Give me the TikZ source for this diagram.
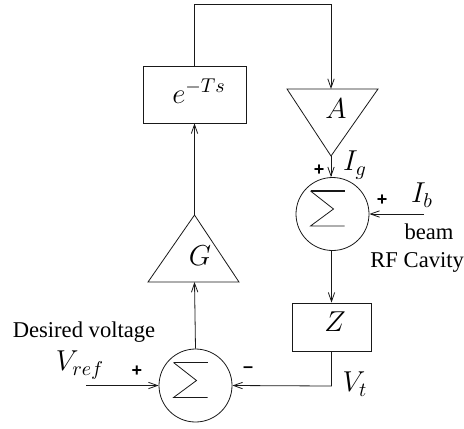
\documentclass[tikz,border=0pt]{standalone}
\usepackage{fontspec}
\setmainfont{Liberation Serif}
\newfontfamily\signfont{Liberation Sans}
\usetikzlibrary{arrows.meta}
\begin{document}
\begin{tikzpicture}[x=0.5pt,y=-0.5pt,
  every node/.style={font=\fontsize{11.3}{13}\selectfont},
  line/.style={line width=0.4pt, draw=black!90},
  arr/.style={line, -{Straight Barb[length=4.5pt,width=3.2pt,line width=0.4pt]}},
  blk/.style={line, rectangle, inner sep=0pt},
  sumc/.style={line, circle, minimum size=36.5pt, inner sep=0pt},
  sign/.style={font=\signfont\bfseries\fontsize{9}{10}\selectfont, inner sep=0pt},
  lbl/.style={inner sep=0pt},
  mlbl/.style={inner sep=0pt, font=\fontsize{13.6}{15}\selectfont}]
\useasboundingbox (0,0) rectangle (464,428);

% blocks
\node[blk, minimum width=51.5pt, minimum height=28.5pt] (E) at (194.5,94.5) {};
\node[mlbl] (Elbl) at (199,91) {$e^{-Ts}$};
\node[blk, minimum width=39.5pt, minimum height=24pt] (Z) at (331.5,327) {};
\node[mlbl] (Zlbl) at (335,322) {$Z$};
\node[sumc] (S1) at (332.5,214) {};
\node[sumc] (S2) at (195.5,385.5) {};

% triangles
\coordinate (Atop) at (331,89);
\coordinate (Aapex) at (331,156);
\draw[line] (287,89) -- (378,89) -- (Aapex) -- cycle;
\node[mlbl] (Albl) at (336,109) {$A$};
\coordinate (Gbase) at (194.5,282);
\coordinate (Gapex) at (194.5,215);
\draw[line] (148,282) -- (239,282) -- (Gapex) -- cycle;
\node[mlbl] (Glbl) at (200,256) {$G$};

% sigma glyphs
\foreach \c in {S1,S2}{
  \draw[line, shift={(\c.center)}] (-22,-23) -- (1,-5) -- (-22,12) -- (12,12);
  \draw[line, line width=0.8pt, shift={(\c.center)}] (-22,-23) -- (12,-23);
}

% connectors
\coordinate (TL) at (194.5,4);
\coordinate (TR) at (331,4);
\draw[arr] (E.north) -- (TL) -- (TR) -- (Atop);
\draw[arr] (Aapex) -- (S1.north -| Aapex);
\coordinate (Ibstart) at (424,214);
\draw[arr] (Ibstart) -- (S1.east);
\draw[arr] (S1.south -| Z.north) -- (Z.north);
\coordinate (Vcorner) at (331.5,386);
\draw[arr] (Z.south) -- (Vcorner) -- (S2.east);
\coordinate (Vin) at (86,385.5);
\draw[arr] (Vin) -- (S2.west);
\draw[arr] (S2.north) -- (Gbase);
\draw[arr] (Gapex) -- (E.south);

% labels
\node[mlbl] (Ig) at (355,165) {$I_g$};
\node[sign] (p1) at (319,170) {+};
\node[mlbl] (Ib) at (422,195) {$I_b$};
\node[sign] (p2) at (382,200) {+};
\node[lbl] (beam) at (429,232) {beam};
\node[lbl, anchor=west] (rf) at (370,262) {RF Cavity};
\node[mlbl] (Vt) at (355,384) {$V_t$};
\node[sign] (m1) at (248,370) {\textendash};
\node[sign] (p3) at (137,371) {+};
\node[mlbl] (Vref) at (80,365) {$V_{ref}$};
\node[lbl] (dv) at (84,332) {Desired voltage};
\end{tikzpicture}
\end{document}
